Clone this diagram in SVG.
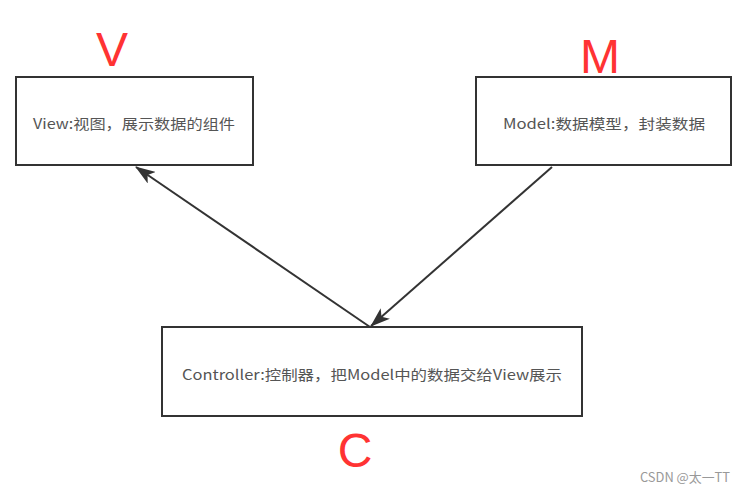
<svg xmlns="http://www.w3.org/2000/svg" width="747" height="493" viewBox="0 0 747 493">
<style>
.box{fill:#fff;stroke:#333;stroke-width:2}
.lbl{font-family:"Noto Sans CJK SC","Noto Sans",sans-serif;font-size:14px;fill:#555;text-anchor:middle;dominant-baseline:central}
.big{font-family:"Liberation Sans","Noto Sans",sans-serif;font-size:48px;fill:#ff3333;text-anchor:middle}
.edge{stroke:#333;stroke-width:2;fill:none}
.wm{font-family:"Noto Sans CJK SC","Noto Sans",sans-serif;font-size:13px;fill:#999}
</style>
<defs>
<marker id="arr" viewBox="0 0 20 14" refX="19" refY="7" markerWidth="20" markerHeight="14" markerUnits="userSpaceOnUse" orient="auto">
<path d="M0,0 L20,7 L0,14 L5,7 Z" fill="#333"/>
</marker>
</defs>
<rect width="747" height="493" fill="#fff"/>
<g id="connectors">
<line class="edge" x1="370" y1="327" x2="136" y2="167" marker-end="url(#arr)"/>
<line class="edge" x1="552" y1="167" x2="371" y2="326" marker-end="url(#arr)"/>
</g>
<g id="view">
<rect class="box" x="16" y="77" width="237" height="88"/>
<text class="lbl" x="134" y="123" textLength="202" lengthAdjust="spacingAndGlyphs">View:视图，展示数据的组件</text>
<text class="big" x="112" y="66">V</text>
</g>
<g id="model">
<rect class="box" x="476" y="77" width="255" height="88"/>
<text class="lbl" x="604" y="123" textLength="202" lengthAdjust="spacingAndGlyphs">Model:数据模型，封装数据</text>
<text class="big" x="600" y="73">M</text>
</g>
<g id="controller">
<rect class="box" x="162" y="327" width="420" height="89"/>
<text class="lbl" x="372" y="374" textLength="380" lengthAdjust="spacingAndGlyphs">Controller:控制器，把Model中的数据交给View展示</text>
<text class="big" x="355" y="467">C</text>
</g>
<text class="wm" x="640" y="482" textLength="90" lengthAdjust="spacingAndGlyphs">CSDN @太一TT</text>
</svg>
